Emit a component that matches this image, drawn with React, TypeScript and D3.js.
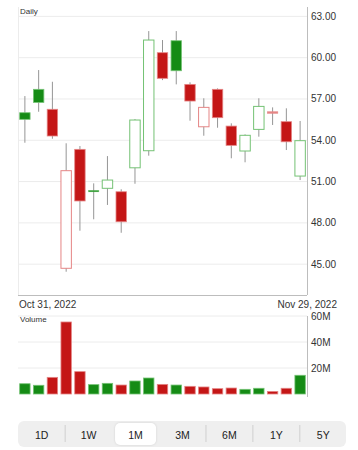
import React from 'react';
import * as d3 from 'd3';

const dates = ['2022-10-31','2022-11-01','2022-11-02','2022-11-03','2022-11-04','2022-11-07','2022-11-08','2022-11-09','2022-11-10','2022-11-11','2022-11-14','2022-11-15','2022-11-16','2022-11-17','2022-11-18','2022-11-21','2022-11-22','2022-11-23','2022-11-25','2022-11-28','2022-11-29'];
const openVals = [56.0, 57.7, 56.25, 44.7, 53.34, 50.36, 50.51, 50.26, 52.0, 53.24, 60.36, 61.23, 58.06, 54.98, 57.7, 55.03, 53.22, 54.79, 56.05, 55.35, 51.4];
const highVals = [57.21, 59.1, 58.25, 53.78, 53.58, 50.87, 52.85, 50.44, 55.54, 61.93, 61.28, 61.93, 58.21, 57.05, 57.77, 55.23, 54.43, 57.05, 56.39, 56.32, 55.4];
const lowVals = [53.82, 56.07, 54.11, 44.45, 47.43, 48.26, 49.3, 47.28, 50.84, 52.88, 58.37, 58.06, 55.42, 54.33, 54.91, 52.69, 52.4, 54.26, 55.11, 53.29, 51.11];
const closeVals = [55.52, 56.75, 54.31, 51.79, 49.59, 50.33, 51.11, 48.08, 55.47, 61.28, 58.5, 59.05, 56.85, 56.39, 55.64, 53.63, 54.36, 56.46, 56.07, 53.89, 53.97];
const priorClose = 55.3;
const volumeM = [7.9, 6.7, 12.8, 55.4, 17.2, 7.2, 8.2, 6.9, 10.0, 12.3, 7.4, 6.9, 5.9, 5.4, 4.1, 4.6, 3.6, 4.4, 2.0, 4.4, 14.4];
const priceTicks = [45, 48, 51, 54, 57, 60, 63];
const volumeTicks = [20, 40, 60];
const rangeLabels = ['1D', '1W', '1M', '3M', '6M', '1Y', '5Y'];
const selectedRange = '1M';
const startLabel = 'Oct 31, 2022';
const endLabel = 'Nov 29, 2022';

const FONT = '"Liberation Sans", Arial, Helvetica, sans-serif';
const GREEN = '#158b15';
const GREEN_LIGHT = '#74c274';
const RED = '#c41616';
const RED_LIGHT = '#e58585';

export default function App() {
  const left = 18, right = 307;
  const top = 7, bottom = 295;
  const x = d3.scaleBand<string>().domain(dates).range([left, right]).paddingInner(0.17).paddingOuter(0.085);
  const y = d3.scaleLinear().domain([42.76, 63.68]).range([bottom, top]);
  const vy = d3.scaleLinear().domain([0, 60]).range([394, 316]);
  const bw = x.bandwidth();

  const candles = dates.map((d, i) => {
    const o = openVals[i], c = closeVals[i], h = highVals[i], l = lowVals[i];
    const prev = i === 0 ? priorClose : closeVals[i - 1];
    const up = c >= prev;
    const hollow = c >= o;
    return { d, o, c, h, l, up, hollow, v: volumeM[i] };
  });

  const segW = 46.93;
  const segC0 = 41.7;

  return (
    <svg width={358} height={450} style={{ position: 'absolute', left: 0, top: 0, background: '#fff' }} fontFamily={FONT}>
      {/* price grid */}
      {priceTicks.map(t => (
        <line key={'g' + t} x1={left} x2={right} y1={y(t)} y2={y(t)} stroke="#ececec" strokeWidth={1} />
      ))}
      <line x1={left + 0.5} x2={left + 0.5} y1={top} y2={bottom} stroke="#ececec" />
      <line x1={left} x2={right} y1={bottom + 0.5} y2={bottom + 0.5} stroke="#bdbdbd" />
      <line x1={right + 0.5} x2={right + 0.5} y1={top} y2={bottom} stroke="#bdbdbd" />
      {priceTicks.map(t => (
        <text key={'t' + t} x={311} y={y(t)} dy="0.35em" fontSize={10} fill="#333">{t.toFixed(2)}</text>
      ))}
      <text x={20} y={11} dy="0.35em" fontSize={8} fill="#333">Daily</text>

      {/* candles */}
      {candles.map(k => {
        const cx = (x(k.d) as number) + bw / 2;
        const yTop = y(Math.max(k.o, k.c));
        const yBot = y(Math.min(k.o, k.c));
        const hgt = Math.max(1.5, yBot - yTop);
        const col = k.up ? GREEN : RED;
        const light = k.up ? GREEN_LIGHT : RED_LIGHT;
        return (
          <g key={k.d}>
            <line x1={cx} x2={cx} y1={y(k.h)} y2={y(k.l)} stroke="#959595" strokeWidth={1} />
            {k.hollow ? (
              <rect x={(x(k.d) as number) + 0.5} y={yTop} width={bw - 1} height={hgt} fill={hgt < 2 ? light : '#fff'} stroke={light} strokeWidth={hgt < 2 ? 0.6 : 1} />
            ) : (
              <rect x={(x(k.d) as number) + 0.5} y={yTop} width={bw - 1} height={hgt} fill={col} stroke={light} strokeWidth={hgt < 2 ? 0.4 : 0.8} />
            )}
          </g>
        );
      })}

      {/* date labels */}
      <text x={19} y={304} dy="0.35em" fontSize={10} fill="#333">{startLabel}</text>
      <text x={337} y={304} dy="0.35em" fontSize={10} fill="#333" textAnchor="end">{endLabel}</text>

      {/* volume */}
      {volumeTicks.map(t => (
        <line key={'vg' + t} x1={left} x2={right} y1={vy(t)} y2={vy(t)} stroke="#ececec" />
      ))}
      <line x1={right + 0.5} x2={right + 0.5} y1={316} y2={397} stroke="#bdbdbd" />
      {volumeTicks.map(t => (
        <text key={'vt' + t} x={311} y={vy(t)} dy="0.35em" fontSize={10} fill="#333">{t}M</text>
      ))}
      <text x={20} y={319} dy="0.35em" fontSize={8} fill="#333">Volume</text>
      {candles.map(k => (
        <rect key={'v' + k.d} x={(x(k.d) as number) + 0.5} y={vy(k.v)} width={bw - 1} height={vy(0) - vy(k.v)}
          fill={k.up ? GREEN : RED} stroke={k.up ? GREEN_LIGHT : RED_LIGHT} strokeWidth={0.8} />
      ))}

      {/* range selector */}
      <rect x={18} y={421} width={328} height={26} rx={6} fill="#efefef" />
      {rangeLabels.map((r, i) => {
        const cx = segC0 + segW * i;
        const sel = r === selectedRange;
        return (
          <g key={r}>
            {sel && <rect x={cx - 20.5} y={423} width={41} height={22} rx={5} fill="#fff" style={{ filter: 'drop-shadow(0 0.5px 1px rgba(0,0,0,0.12))' }} />}
            <text x={cx} y={435} dy="0.35em" textAnchor="middle" fontSize={10.5} fill="#222">{r}</text>
          </g>
        );
      })}
      {rangeLabels.slice(0, -1).map((r, i) => {
        const nextSel = rangeLabels[i + 1] === selectedRange;
        if (r === selectedRange || nextSel) return null;
        const sx = segC0 + segW * (i + 0.5);
        return <line key={'s' + r} x1={sx} x2={sx} y1={425} y2={442} stroke="#cfcfcf" />;
      })}
    </svg>
  );
}
